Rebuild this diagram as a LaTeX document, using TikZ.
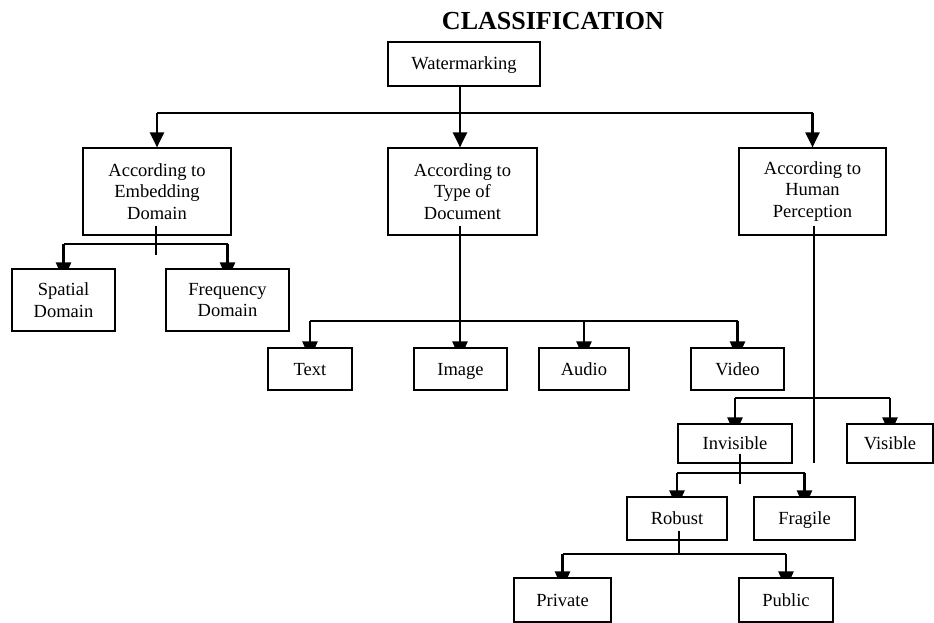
\documentclass[tikz,border=0pt]{standalone}
\usepackage{fontspec}
\setmainfont{Liberation Serif}
\usepackage{tikz}
\usetikzlibrary{
    arrows.meta,
    backgrounds
}

\begin{document}
\begin{tikzpicture}[
    x=1pt,
    y=-1pt,
    box/.style={
        draw,
        fill=white,
        line width=1.2pt,
        inner sep=0pt,
        align=center,
        font=\fontsize{18.5}{21.5}\selectfont
    },
    leaf/.style={
        box,
        text height=13pt,
        text depth=1pt
    },
    bus/.style={
        line width=1.5pt
    },
    trunk/.style={
        line width=1.2pt
    },
    drop/.style={
        -{Triangle[length=15pt,width=14pt]},
        line width=2.2pt
    },
    subdrop/.style={
        -{Triangle[length=18pt,width=15pt]},
        line width=2.2pt,
        shorten >=-12pt
    }
]
%
    \useasboundingbox (0,0) rectangle (934,623);
%
    \node[
        font=\bfseries\fontsize{26}{30}\selectfont
    ]
    (title) at (553,21) {CLASSIFICATION};
%
    % root and first level
%
    \node[leaf, minimum width=152, minimum height=44]
    (wm) at (464,64) {Watermarking};
%
    \node[box, minimum width=148, minimum height=87]
    (emb) at (157,191.5) {According to\\Embedding\\Domain};
%
    \node[box, minimum width=149, minimum height=87]
    (typ) at (462.5,191.5) {According to\\Type of\\Document};
%
    \node[box, minimum width=147, minimum height=87]
    (hum) at (812.5,191.5) {According to\\Human\\Perception};
%
    % embedding domain
%
    \node[box, minimum width=103, minimum height=62]
    (spat) at (63.5,300) {Spatial\\Domain};
%
    \node[box, minimum width=123, minimum height=62]
    (freq) at (227.5,300) {Frequency\\Domain};
%
    % type of document
%
    \node[leaf, minimum width=84, minimum height=42]
    (txt) at (310,369) {Text};
%
    \node[leaf, minimum width=93, minimum height=42]
    (img) at (460.5,369) {Image};
%
    \node[leaf, minimum width=90, minimum height=42]
    (aud) at (584,369) {Audio};
%
    \node[leaf, minimum width=93, minimum height=42]
    (vid) at (737.5,369) {Video};
%
    % human perception
%
    \node[leaf, minimum width=114, minimum height=39]
    (invis) at (735,443.5) {Invisible};
%
    \node[leaf, minimum width=86, minimum height=39]
    (vis) at (890,443.5) {Visible};
%
    \node[leaf, minimum width=100, minimum height=43]
    (rob) at (677,518.5) {Robust};
%
    \node[leaf, minimum width=101, minimum height=43]
    (frag) at (804.5,518.5) {Fragile};
%
    \node[leaf, minimum width=97, minimum height=44]
    (priv) at (562.5,600) {Private};
%
    \node[leaf, minimum width=94, minimum height=44]
    (pub) at (786,600) {Public};
%
    % bus levels and loose ends
%
    \coordinate (busTop) at (460,113);
    \coordinate (busEmb) at (156,244);
    \coordinate (busTyp) at (460,321);
    \coordinate (busHum) at (814,398);
    \coordinate (busInv) at (740,473);
    \coordinate (busRob) at (679,554);
    \coordinate (tailEmb) at (156,255);
    \coordinate (tailHum) at (814,463);
    \coordinate (tailInv) at (740,484);
%
    % trunks run up into the parent boxes
%
    \draw[trunk]
    (wm.south -| busTop)
    --
    (busTop);
%
    \draw[trunk]
    ([yshift=10pt]emb.south -| tailEmb)
    --
    (tailEmb);
%
    \draw[trunk]
    ([yshift=10pt]typ.south -| busTyp)
    --
    (busTyp);
%
    \draw[trunk]
    ([yshift=10pt]hum.south -| tailHum)
    --
    (tailHum);
%
    \draw[trunk]
    ([yshift=10pt]invis.south -| tailInv)
    --
    (tailInv);
%
    \draw[trunk]
    ([yshift=10pt]rob.south -| busRob)
    --
    (busRob);
%
    % horizontal buses
%
    \draw[bus]
    (busTop -| emb)
    --
    (busTop -| hum);
%
    \draw[bus]
    (busEmb -| spat)
    --
    (busEmb -| freq);
%
    \draw[bus]
    (busTyp -| txt)
    --
    (busTyp -| vid);
%
    \draw[bus]
    (busHum -| invis)
    --
    (busHum -| vis);
%
    \draw[bus]
    (busInv -| rob)
    --
    (busInv -| frag);
%
    \draw[bus]
    (busRob -| priv)
    --
    (busRob -| pub);
%
    % first level arrows
%
    \draw[drop] (busTop -| emb) -- (emb.north);
    \draw[drop] (busTop) -- (typ.north -| busTop);
    \draw[drop] (busTop -| hum) -- (hum.north);
%
    % lower arrows, tips hidden under the boxes
%
    \begin{scope}[on background layer]
        \draw[subdrop] (busEmb -| spat) -- (spat.north);
        \draw[subdrop] (busEmb -| freq) -- (freq.north);
        \draw[subdrop] (busTyp -| txt) -- (txt.north);
        \draw[subdrop] (busTyp) -- (img.north -| busTyp);
        \draw[subdrop] (busTyp -| aud) -- (aud.north);
        \draw[subdrop] (busTyp -| vid) -- (vid.north);
        \draw[subdrop] (busHum -| invis) -- (invis.north);
        \draw[subdrop] (busHum -| vis) -- (vis.north);
        \draw[subdrop] (busInv -| rob) -- (rob.north);
        \draw[subdrop] (busInv -| frag) -- (frag.north);
        \draw[subdrop] (busRob -| priv) -- (priv.north);
        \draw[subdrop] (busRob -| pub) -- (pub.north);
    \end{scope}
%
\end{tikzpicture}
\end{document}
